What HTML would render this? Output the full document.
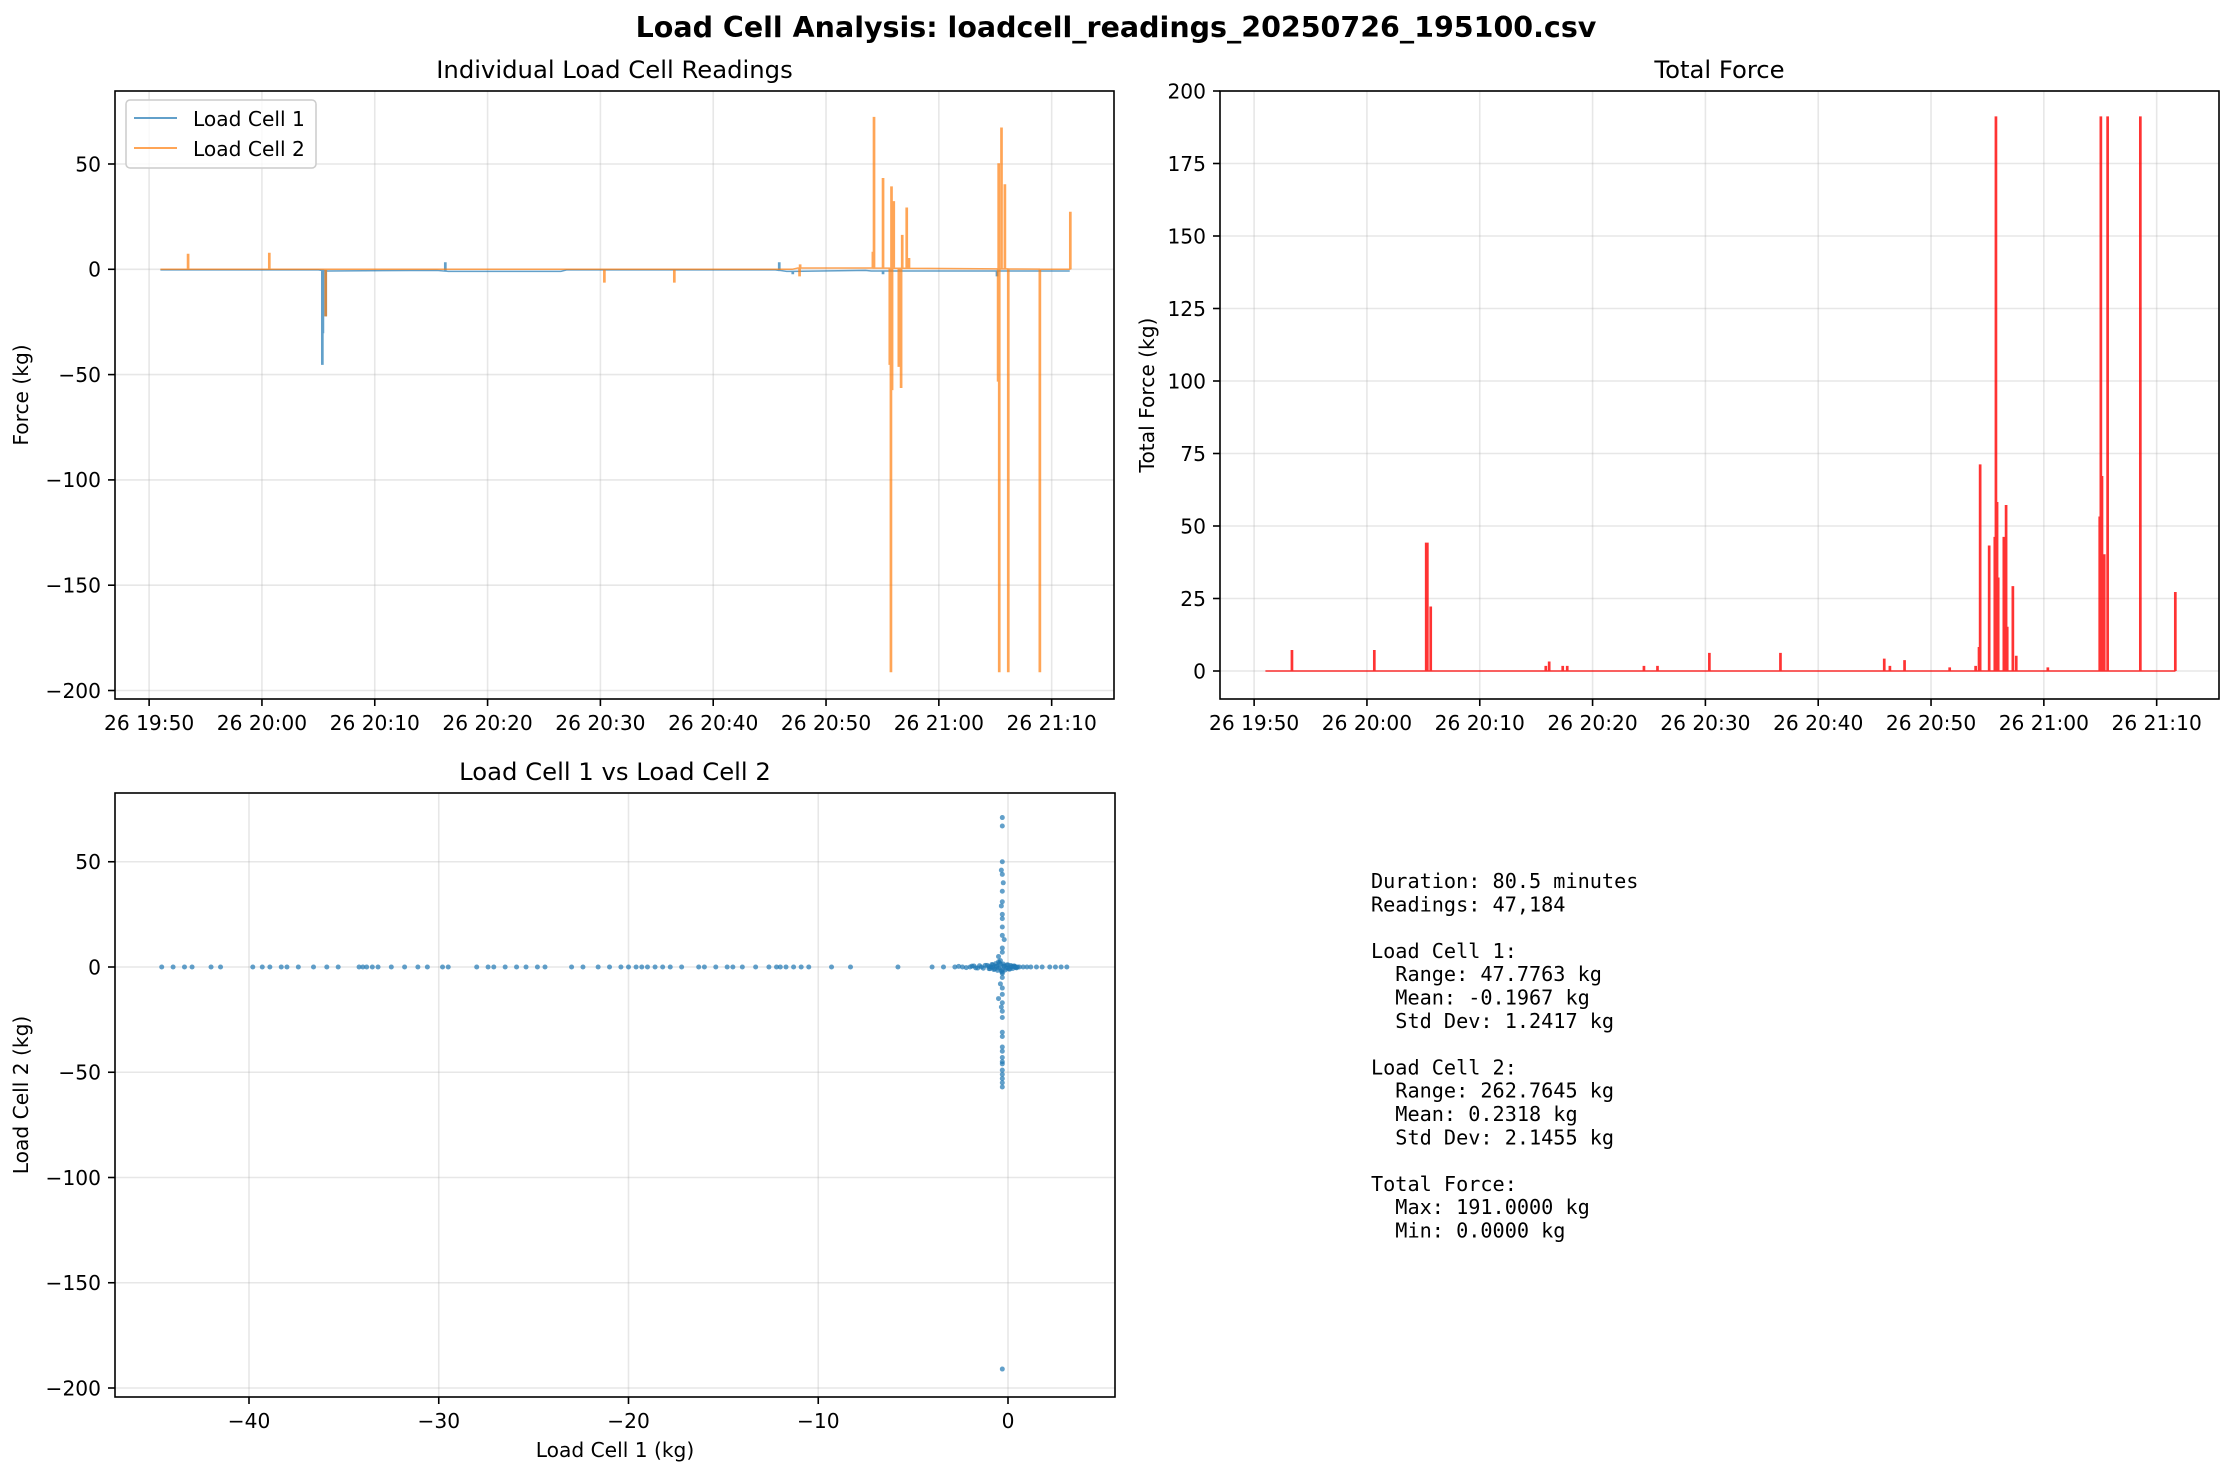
<!DOCTYPE html>
<html><head><meta charset="utf-8"><style>
html,body{margin:0;padding:0;background:#fff;}
svg{display:block;font-family:"DejaVu Sans","Liberation Sans",sans-serif;}
</style></head><body>
<svg id="fig" width="2233" height="1475" viewBox="0 0 2233 1475" xmlns="http://www.w3.org/2000/svg">
<rect width="2233" height="1475" fill="#fff"/>
<text x="1116" y="37" text-anchor="middle" font-size="28.5" font-weight="bold">Load Cell Analysis: loadcell_readings_20250726_195100.csv</text>
<g id="stats" font-family="'DejaVu Sans Mono','Liberation Mono',monospace" font-size="20.2"></g>
</svg>
<script>
// ---- data (minutes since 19:50) ----
const timeTickLabels = ["26 19:50","26 20:00","26 20:10","26 20:20","26 20:30","26 20:40","26 20:50","26 21:00","26 21:10"];
const timeTickMinutes = [0,10,20,30,40,50,60,70,80];
const forceTicks = [50,0,-50,-100,-150,-200];
const totalTicks = [0,25,50,75,100,125,150,175,200];
const scatterXTicks = [-40,-30,-20,-10,0];

const lc1BaseT = [1.0,15.0,15.8,25.5,26.5,36.5,37,55.5,56.5,63.5,64,81.6];
const lc1BaseV = [-0.3,-0.3,-0.8,-0.5,-1.0,-1.0,-0.3,-0.3,-1.0,-0.5,-0.8,-0.8];
const lc1SpikeT = [15.3,15.35,15.6,26.2,55.8,57.0,65.0,75.1];
const lc1SpikeV = [-45,-30,-22,3,3,-2,-2,-3];

const lc2BaseT = [1.0,57.0,57.5,64.0,81.6];
const lc2BaseV = [0,0,0.6,0.6,0];
const lc2SpikeT = [3.4,10.6,15.6,40.3,46.5,57.6,57.65,64.1,64.2,65.0,65.6,65.7,65.75,65.8,65.95,66.4,66.6,66.7,67.1,67.3,75.2,75.25,75.3,75.5,75.8,76.1,78.9,81.6];
const lc2SpikeV = [7,7.5,-22,-6,-6,-3,2,8,72,43,-45,-191,39,-57,32,-46,-56,16,29,5,-53,50,-191,67,40,-191,-191,27];

const totalT = [3.3,10.6,15.2,15.3,15.6,25.8,26.1,27.3,27.7,34.5,35.7,40.3,46.6,55.8,56.3,57.6,61.6,63.9,64.2,64.3,65.1,65.6,65.7,65.8,65.9,66.4,66.6,66.7,67.2,67.5,70.3,74.9,75.0,75.1,75.3,75.6,78.5,81.6];
const totalV = [7,7,44,44,22,1.5,3,1.5,1.5,1.5,1.5,6,6,4,1.5,3.5,1,1.5,8,71,43,46,191,58,32,46,57,15,29,5,1,53,191,67,40,191,191,27];

// horizontal cluster of scatter (101 points)
const scatterHX = [
 -44.6,-44,-43.4,-43,-42,-41.5,-39.8,-39.3,-38.9,-38.3,
 -38,-37.4,-36.6,-35.9,-35.3,-34.2,-34,-33.8,-33.5,-33.2,
 -32.5,-31.8,-31.1,-30.6,-29.8,-29.5,-28,-27.4,-27.1,-26.5,
 -25.9,-25.4,-24.8,-24.4,-23,-22.4,-21.6,-21,-20.4,-20,
 -19.6,-19.3,-19,-18.6,-18.2,-17.8,-17.2,-16.3,-16,-15.4,
 -14.8,-14.5,-14,-13.3,-12.6,-12.2,-12,-11.7,-11.3,-10.9,
 -10.5,-9.3,-8.3,-5.8,-4,-3.4,-2.8,-2.6,-2.4,-2.2,
 -2.0,-1.8,-1.6,-1.4,-1.2,-1.0,-0.9,-0.8,-0.7,-0.6,
 -0.5,-0.4,-0.3,-0.2,-0.1,0,0.1,0.2,0.3,0.4,
 0.5,0.6,0.8,1.0,1.2,1.5,1.8,2.2,2.5,2.8,
 3.1];
const scatterHY = [
 0,0,0,0,0,0,0,0,0,0,
 0,0,0,0,0,0,0,0,0,0,
 0,0,0,0,0,0,0,0,0,0,
 0,0,0,0,0,0,0,0,0,0,
 0,0,0,0,0,0,0,0,0,0,
 0,0,0,0,0,0,0,0,0,0,
 0,0,0,0,0,0,0,0.3,0,-0.3,
 0,0.5,-0.5,0,0.8,-0.8,0,1,-1,0.5,
 -0.5,1.5,-1.5,0.5,-0.5,1,-1,0,0.5,0,
 0,0,0,0,0,0,0,0,0,0,
 0];
// dense blob near origin (30 points)
const scatterBX = [-1.9,-1.7,-1.5,-1.3,-1.1,-0.95,-0.85,-0.75,-0.65,-0.55,-0.45,-0.35,-0.25,-0.15,-0.05,0.05,0.15,0.25,0.35,0.45,-1.0,-0.8,-0.6,-0.4,-0.2,0,0.2,0.4,-0.5,-0.3];
const scatterBY = [0.4,-0.4,0.6,-0.6,0.8,-0.8,1.2,-1.2,1.6,-1.6,2,-2,1.4,-1.4,1,-1,0.7,-0.7,0.4,-0.4,0.2,-0.2,0.3,-0.3,0.5,-0.5,0.2,-0.2,2.5,-2.5];
// vertical cluster (41 points)
const scatterVX = [
 -0.3,-0.3,-0.3,-0.35,-0.3,-0.25,-0.3,-0.3,-0.35,-0.3,
 -0.3,-0.3,-0.3,-0.2,-0.3,-0.3,-0.5,-0.4,-0.3,-0.3,
 -0.4,-0.3,-0.3,-0.5,-0.3,-0.35,-0.3,-0.3,-0.3,-0.3,
 -0.3,-0.3,-0.3,-0.3,-0.3,-0.3,-0.3,-0.3,-0.3,-0.3,
 -0.3];
const scatterVY = [
 71,67,50,46,44,40,36,31,29,25,
 23,19,15,13,9,7,5,3,-3,-5,
 -8,-10,-13,-15,-17,-19,-21,-24,-31,-33,
 -38,-40,-43,-45,-46,-49,-51,-53,-55,-57,
 -191];

const statLines = ["Duration: 80.5 minutes","Readings: 47,184","","Load Cell 1:","  Range: 47.7763 kg","  Mean: -0.1967 kg","  Std Dev: 1.2417 kg","","Load Cell 2:","  Range: 262.7645 kg","  Mean: 0.2318 kg","  Std Dev: 2.1455 kg","","Total Force:","  Max: 191.0000 kg","  Min: 0.0000 kg"];

// ---- drawing ----
const NS = "http://www.w3.org/2000/svg";
const svg = document.getElementById('fig');
function mk(tag, attrs, parent){const e=document.createElementNS(NS,tag);for(const k in attrs)e.setAttribute(k,attrs[k]);(parent||svg).appendChild(e);return e;}
function lin(d0,d1,r0,r1){return v=>r0+(v-d0)*(r1-r0)/(d1-d0);}

function axes(name,L,T,R,B,xs,ys,xticks,xlabels,yticks,ylabels,title,xlabel,ylabel,ylabelX){
  const g=mk('g',{});
  
  
  const grid=mk('g',{stroke:'#b0b0b0','stroke-opacity':'0.3','stroke-width':'1.6'},g);
  
  
  xticks.forEach((t,i)=>{const x=xs(t);
    mk('line',{x1:x,x2:x,y1:T,y2:B},grid);
    const tk=mk('line',{x1:x,x2:x,y1:B,y2:B+7,stroke:'#000','stroke-width':'1.6'},g);
    
    
    const tl=mk('text',{x:x,y:B+31,'text-anchor':'middle','font-size':'20.2'},g);tl.textContent=xlabels[i];
    
    
  });
  yticks.forEach((t,i)=>{const y=ys(t);
    mk('line',{x1:L,x2:R,y1:y,y2:y},grid);
    const tk=mk('line',{x1:L-7,x2:L,y1:y,y2:y,stroke:'#000','stroke-width':'1.6'},g);
    
    
    const tl=mk('text',{x:L-14,y:y+7.3,'text-anchor':'end','font-size':'20.2'},g);tl.textContent=ylabels[i];
    
    
  });
  const tt=mk('text',{x:(L+R)/2,y:T-13,'text-anchor':'middle','font-size':'24.3'},g);tt.textContent=title;
  
  
  if(xlabel){const xl=mk('text',{x:(L+R)/2,y:B+60,'text-anchor':'middle','font-size':'20.2'},g);xl.textContent=xlabel;
    
    }
  const yl=mk('text',{x:ylabelX,y:(T+B)/2,'text-anchor':'middle','font-size':'20.2',transform:`rotate(-90 ${ylabelX} ${(T+B)/2})`},g);yl.textContent=ylabel;
  
  
  const cp=mk('clipPath',{id:name+'-clip'},g);
  mk('rect',{x:L,y:T,width:R-L,height:B-T},cp);
  const plot=mk('g',{'clip-path':`url(#${name}-clip)`},g);
  return {g,plot,frame:()=>{const f=mk('rect',{x:L,y:T,width:R-L,height:B-T,fill:'none',stroke:'#000','stroke-width':'1.6'},g);
    
    }};
}

function spikePath(baseT,baseV,spT,spV,xs,ys){
  const base=t=>{for(let i=1;i<baseT.length;i++){if(t<=baseT[i]){const f=(t-baseT[i-1])/(baseT[i]-baseT[i-1]);return baseV[i-1]+f*(baseV[i]-baseV[i-1]);}}return baseV[baseV.length-1];};
  let d=`M${xs(baseT[0])},${ys(baseV[0])}`;
  const ev=[];baseT.forEach(t=>ev.push([t,null]));spT.forEach((t,i)=>ev.push([t,spV[i]]));
  ev.sort((a,b)=>a[0]-b[0]);
  ev.forEach(([t,v])=>{const b=base(t);
    if(v===null){d+=` L${xs(t)},${ys(b)}`;}
    else{d+=` L${xs(t)},${ys(b)} L${xs(t)},${ys(v)} L${xs(t)+1.2},${ys(v)} L${xs(t)+1.2},${ys(b)}`;}
  });
  return d;
}

const tmin=-3.025,tmax=85.525;
// Individual readings
{
  const L=115,T=91,R=1114,B=699;
  const xs=lin(tmin,tmax,L,R), ys=lin(0,50,269.3,164);
  const a=axes('readings-chart',L,T,R,B,xs,ys,timeTickMinutes,timeTickLabels,forceTicks,forceTicks.map(v=>v<0?'\u2212'+(-v):''+v),'Individual Load Cell Readings',null,'Force (kg)',28);
  const p1=mk('path',{d:spikePath(lc1BaseT,lc1BaseV,lc1SpikeT,lc1SpikeV,xs,ys),fill:'none',stroke:'#1f77b4','stroke-opacity':'0.7','stroke-width':'1.5'},a.plot);
  
  
  const p2=mk('path',{d:spikePath(lc2BaseT,lc2BaseV,lc2SpikeT,lc2SpikeV,xs,ys),fill:'none',stroke:'#ff7f0e','stroke-opacity':'0.7','stroke-width':'1.5'},a.plot);
  
  
  a.frame();
  const lg=mk('g',{},a.g);
  
  
  mk('rect',{x:126,y:100,width:190,height:68,rx:4,fill:'#fff','fill-opacity':'0.8',stroke:'#ccc','stroke-width':'1.5'},lg);
  const e1=mk('g',{},lg);
  
  
  mk('line',{x1:134,x2:177,y1:118,y2:118,stroke:'#1f77b4','stroke-opacity':'0.7','stroke-width':'2'},e1);
  const t1=mk('text',{x:193,y:126,'font-size':'20.2'},e1);t1.textContent='Load Cell 1';
  const e2=mk('g',{},lg);
  
  
  mk('line',{x1:134,x2:177,y1:148,y2:148,stroke:'#ff7f0e','stroke-opacity':'0.7','stroke-width':'2'},e2);
  const t2=mk('text',{x:193,y:156,'font-size':'20.2'},e2);t2.textContent='Load Cell 2';
}
// Total force
{
  const L=1220,T=91,R=2219,B=699;
  const xs=lin(tmin,tmax,L,R), ys=lin(0,200,671,91);
  const a=axes('total-force-chart',L,T,R,B,xs,ys,timeTickMinutes,timeTickLabels,totalTicks,totalTicks.map(String),'Total Force',null,'Total Force (kg)',1154);
  const p=mk('path',{d:spikePath([1.0,81.6],[0,0],totalT,totalV,xs,ys),fill:'none',stroke:'#ff0000','stroke-opacity':'0.8','stroke-width':'1.5'},a.plot);
  
  
  a.frame();
}
// Scatter
{
  const L=115,T=793,R=1115,B=1397;
  const xs=lin(-40,0,249,1008), ys=lin(0,-200,967,1388);
  const a=axes('scatter-chart',L,T,R,B,xs,ys,scatterXTicks,scatterXTicks.map(v=>v<0?'\u2212'+(-v):''+v),forceTicks,forceTicks.map(v=>v<0?'\u2212'+(-v):''+v),'Load Cell 1 vs Load Cell 2','Load Cell 1 (kg)','Load Cell 2 (kg)',28);
  const groups=[[scatterHX,scatterHY],[scatterBX,scatterBY],[scatterVX,scatterVY]];
  groups.forEach(([gx,gy])=>{
    gx.forEach((x,i)=>{
      const c=mk('circle',{cx:xs(x),cy:ys(gy[i]),r:2.5,fill:'#1f77b4','fill-opacity':'0.7'},a.plot);
      
      
    });
  });
  a.frame();
}
// Stats
{
  const g=document.getElementById('stats');
  statLines.forEach((s,i)=>{const t=mk('text',{x:1371,y:888+i*23.3},g);t.setAttribute('style','white-space:pre');t.textContent=s;
    
    });
}
</script>
</body></html>
